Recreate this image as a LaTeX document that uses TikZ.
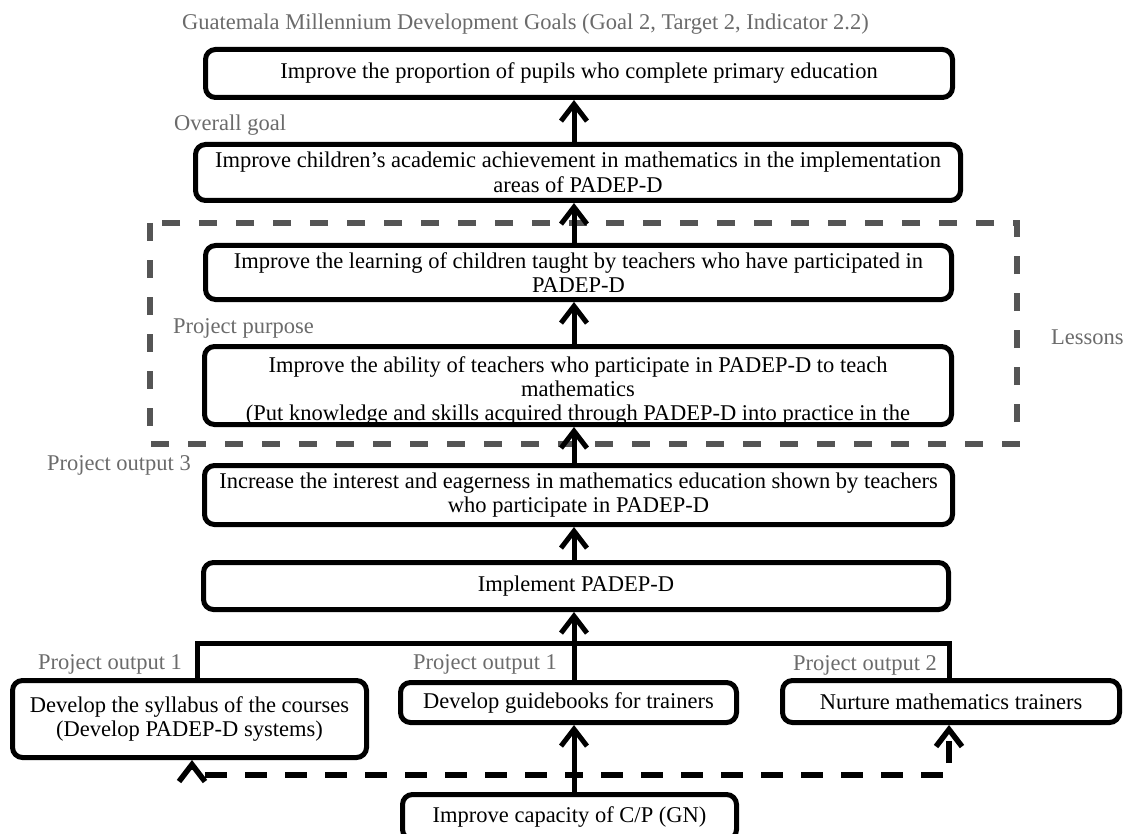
\documentclass[tikz,border=0pt]{standalone}
\usepackage{fontspec}
\setmainfont{Liberation Serif}
\usetikzlibrary{arrows.meta}
\newcommand\diagfont{\fontsize{22.5}{24.5}\selectfont}
\definecolor{labgray}{HTML}{6B6B6B}
\definecolor{dashgray}{HTML}{555555}
\tikzset{
  box/.style={draw, line width=5pt, rounded corners=10pt, inner sep=0pt, align=center, font=\diagfont, fill=white},
  lab/.style={text=labgray, font=\diagfont, inner sep=0pt},
  btext/.style={font=\diagfont, inner sep=0pt},
  conn/.style={line width=5pt, line join=miter},
  arr/.style={line width=5pt, -{Straight Barb[length=17pt,width=26pt]}},
  darr/.style={line width=5.5pt, dash pattern=on 22pt off 18pt, dash phase=13pt, -{Straight Barb[length=17pt,width=26pt]}},
  lessonsbox/.style={draw=dashgray, line width=6pt, dash pattern=on 18pt off 19pt}
}
\begin{document}
\begin{tikzpicture}[x=1pt,y=-1pt]
\useasboundingbox (0,0) rectangle (1126,834);
\fill[white] (0,0) rectangle (1126,834);

% dashed lessons frame
\draw[lessonsbox] (150,223) rectangle (1017,444);

% coordinates
\coordinate (ax) at (574,0);
\coordinate (jL) at (197,643);
\coordinate (jM) at (574,643);
\coordinate (jR) at (949,643);
\coordinate (dM) at (574,775);
\coordinate (dL) at (192,775);
\coordinate (dR) at (949,775);

% boxes
\node[box, minimum width=747pt, minimum height=48pt] (b1) at (579,73.5)
  {Improve the proportion of pupils who complete primary education};
\node[box, minimum width=765pt, minimum height=56pt] (b2) at (578,172.5)
  {Improve children’s academic achievement in mathematics in the implementation\\areas of PADEP-D};
\node[box, minimum width=746pt, minimum height=54pt] (b3) at (578.5,272.5)
  {Improve the learning of children taught by teachers who have participated in\\PADEP-D};
\node[box, minimum width=747pt, minimum height=78pt] (b4) at (578,385.5) {};
\begin{scope}
  \clip[rounded corners=7pt] (207,349) rectangle (949,422);
  \node[btext, anchor=base] (b4l1) at (578,372) {Improve the ability of teachers who participate in PADEP-D to teach};
  \node[btext, anchor=base] (b4l2) at (578,396) {mathematics};
  \node[btext, anchor=base] (b4l3) at (578,420) {(Put knowledge and skills acquired through PADEP-D into practice in the};
\end{scope}
\node[box, minimum width=748pt, minimum height=59pt] (b5) at (578.5,495)
  {Increase the interest and eagerness in mathematics education shown by teachers\\who participate in PADEP-D};
\node[box, minimum width=745pt, minimum height=47pt] (b6) at (576,586)
  {Implement PADEP-D};
\node[box, minimum width=354pt, minimum height=77pt] (b7) at (189.5,719)
  {Develop the syllabus of the courses\\(Develop PADEP-D systems)};
\node[box, minimum width=336pt, minimum height=40pt] (b8) at (568.5,702.5)
  {Develop guidebooks for trainers};
\node[box, minimum width=337pt, minimum height=42pt] (b9) at (951,701.5)
  {Nurture mathematics trainers};
\node[box, minimum width=334pt, minimum height=45pt] (b10) at (569.5,817)
  {Improve capacity of C/P (GN)};

% labels
\node[lab, anchor=base west] (t0) at (182,30) {Guatemala Millennium Development Goals (Goal 2, Target 2, Indicator 2.2)};
\node[lab, anchor=base west] (t1) at (174,131) {Overall goal};
\node[lab, anchor=base west] (t2) at (173,333) {Project purpose};
\node[lab, anchor=base west] (t3) at (1051,344) {Lessons};
\node[lab, anchor=base east] (t4) at (191,470) {Project output 3};
\node[lab, anchor=base west] (t5) at (38,669) {Project output 1};
\node[lab, anchor=base west] (t6) at (413,669) {Project output 1};
\node[lab, anchor=base west] (t7) at (793,670) {Project output 2};

% vertical chain arrows
\draw[arr] (b2.north -| ax) -- (b1.south -| ax);
\draw[arr] (b3.north -| ax) -- (b2.south -| ax);
\draw[arr] (b4.north -| ax) -- (b3.south -| ax);
\draw[arr] (b5.north -| ax) -- (b4.south -| ax);
\draw[arr] (b6.north -| ax) -- (b5.south -| ax);

% outputs junction
\draw[conn] (b7.north -| jL) -- (jL) -- (jR) -- (b9.north -| jR);
\draw[arr] (b8.north -| jM) -- (b6.south -| jM);

% capacity
\draw[arr] (b10.north -| dM) -- (b8.south -| dM);
\draw[darr] (dM) -- (dL) -- (b7.south -| dL);
\draw[darr] (dM) -- (dR) -- (b9.south -| dR);
\end{tikzpicture}
\end{document}
